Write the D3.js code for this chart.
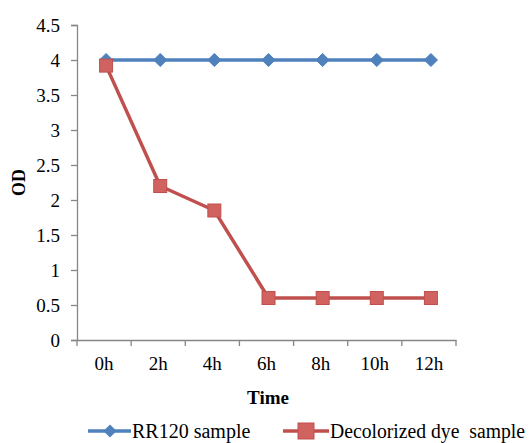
<!DOCTYPE html>
<html>
<head>
<meta charset="utf-8">
<script src="https://cdn.jsdelivr.net/npm/d3@7"></script>
<style>
  html, body { margin: 0; padding: 0; background: #fff; }
  svg { display: block; }
</style>
</head>
<body>
<svg id="chart" width="530" height="443"></svg>
<script>
// Optical density over time for the dye and its decolorized product
const categories = ["0h", "2h", "4h", "6h", "8h", "10h", "12h"];
const rr120 = [4, 4, 4, 4, 4, 4, 4];
const decolorized = [3.92, 2.2, 1.85, 0.6, 0.6, 0.6, 0.6];
const yTicks = [0, 0.5, 1, 1.5, 2, 2.5, 3, 3.5, 4, 4.5];
const seriesNames = ["RR120 sample", "Decolorized dye  sample"];

const blue = "#4F81BD", red = "#C0504D", axisColor = "#868686";
const serif = "Liberation Serif, Times New Roman, serif";

const svg = d3.select("#chart").style("font-family", serif);
const plotLeft = 77, plotRight = 456, plotTop = 25, plotBottom = 340;

const x = d3.scaleBand().domain(categories).range([plotLeft, plotRight]);
const y = d3.scaleLinear().domain([0, 4.5]).range([plotBottom, plotTop]);

// Y axis
const yAxis = svg.append("g").attr("transform", `translate(${plotLeft},0)`)
  .call(d3.axisLeft(y).tickValues(yTicks).tickSize(6).tickPadding(11)
    .tickFormat(d => d3.format("")(d)));
yAxis.attr("font-family", null).attr("font-size", null);
yAxis.select(".domain").attr("stroke", axisColor).attr("stroke-width", 1.3);
yAxis.selectAll(".tick line").attr("stroke", axisColor).attr("stroke-width", 1.3);
yAxis.selectAll(".tick text").attr("fill", "#000").attr("dy", "0.36em")
  .style("font-family", serif).style("font-size", "19px");

// X axis with ticks at category boundaries
const xAxis = svg.append("g").attr("transform", `translate(0,${plotBottom})`)
  .call(d3.axisBottom(x).tickSize(0).tickPadding(17));
xAxis.attr("font-family", null).attr("font-size", null);
xAxis.select(".domain").attr("stroke", axisColor).attr("stroke-width", 1.3);
xAxis.selectAll(".tick text").attr("fill", "#000")
  .style("font-family", serif).style("font-size", "19px");
const bounds = categories.map(c => x(c)).concat([x(categories[categories.length - 1]) + x.bandwidth()]);
xAxis.selectAll("line.bound").data(bounds).join("line").attr("class", "bound")
  .attr("x1", d => d).attr("x2", d => d).attr("y1", 0).attr("y2", 6)
  .attr("stroke", axisColor).attr("stroke-width", 1.3);

// Axis titles
svg.append("text").attr("transform", `translate(25,${(plotTop + plotBottom) / 2}) rotate(-90)`)
  .attr("text-anchor", "middle").style("font-size", "18px").style("font-weight", "bold")
  .text("OD");
svg.append("text").attr("x", 268).attr("y", 404)
  .attr("text-anchor", "middle").style("font-size", "19px").style("font-weight", "bold")
  .text("Time");

const cx = d => x(d) + x.bandwidth() / 2 + 2;
const line = d3.line().x((d, i) => cx(categories[i])).y(d => y(d));

// Series lines
svg.append("path").datum(rr120).attr("d", line).attr("fill", "none")
  .attr("stroke", blue).attr("stroke-width", 3.5);
svg.append("path").datum(decolorized).attr("d", line).attr("fill", "none")
  .attr("stroke", red).attr("stroke-width", 3.5);

// Markers
const diamond = d3.symbol().type(d3.symbolDiamond2).size(110);
svg.selectAll("path.dia").data(rr120).join("path").attr("class", "dia")
  .attr("d", diamond)
  .attr("transform", (d, i) => `translate(${cx(categories[i])},${y(d)})`)
  .attr("fill", blue).attr("stroke", blue).attr("stroke-width", 1);
svg.selectAll("rect.sq").data(decolorized).join("rect").attr("class", "sq")
  .attr("x", (d, i) => cx(categories[i]) - 6.5).attr("y", d => y(d) - 6.5)
  .attr("width", 13).attr("height", 13)
  .attr("fill", "#D06360").attr("stroke", red).attr("stroke-width", 1);

// Legend
const legendY = 431;
const lg = svg.append("g").style("font-size", "20px");
lg.append("line").attr("x1", 88).attr("x2", 131).attr("y1", legendY).attr("y2", legendY)
  .attr("stroke", blue).attr("stroke-width", 3.5);
lg.append("path").attr("d", diamond).attr("transform", `translate(110,${legendY})`)
  .attr("fill", blue);
lg.append("text").attr("x", 132).attr("y", 438)
  .text(seriesNames[0]);
lg.append("line").attr("x1", 283).attr("x2", 329).attr("y1", legendY).attr("y2", legendY)
  .attr("stroke", red).attr("stroke-width", 3.5);
lg.append("rect").attr("x", 298).attr("y", legendY - 8).attr("width", 16).attr("height", 16)
  .attr("fill", "#D06360").attr("stroke", red);
lg.append("text").attr("x", 330).attr("y", 438)
  .attr("xml:space", "preserve").style("white-space", "pre")
  .attr("textLength", 195).attr("lengthAdjust", "spacingAndGlyphs")
  .text(seriesNames[1]);
</script>
</body>
</html>
